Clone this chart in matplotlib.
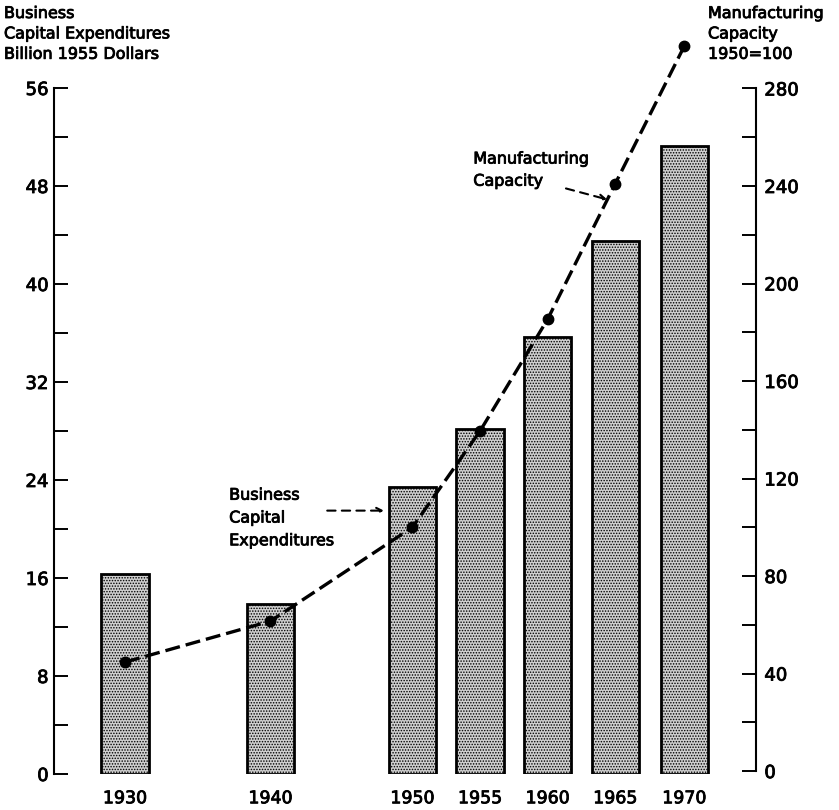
import matplotlib
matplotlib.use("Agg")
import matplotlib.pyplot as plt
import matplotlib.patheffects as pe
from matplotlib.ticker import MultipleLocator

# data
years = ["1930", "1940", "1950", "1955", "1960", "1965", "1970"]
capex = [16.3, 13.9, 23.4, 28.2, 35.7, 43.5, 51.3]          # billion 1955 dollars
capacity = [44.7, 61.5, 100.0, 139.5, 185.4, 241.0, 297.4]  # 1950 = 100

# horizontal slots (uneven spacing like the original)
slots = [1.05, 3.2, 5.3, 6.3, 7.3, 8.3, 9.32]

plt.rcParams['font.family'] = ['DejaVu Sans']
plt.rcParams['hatch.color'] = '#6e6e6e'
plt.rcParams['hatch.linewidth'] = 0.7

# slight stroke so the letters look like the old lettering-guide type
thick = [pe.withStroke(linewidth=0.6, foreground='black')]

fig = plt.figure(figsize=(8.39, 8.10), dpi=100)
ax = fig.add_axes([54 / 839, 36 / 810, 702 / 839, 686 / 810])
ax2 = ax.twinx()

ax.bar(slots, capex, width=0.70, facecolor='#cfcfcf', edgecolor='black',
       linewidth=2.0, hatch='......', zorder=2)

ax2.plot(slots, capacity, color='black', lw=2.4, dashes=(4.5, 1.8),
         marker='o', markersize=7.5, clip_on=False, zorder=3)

ax.set_xlim(0, 10.38)
ax.set_ylim(0, 56)
ax2.set_ylim(-1.2, 280.2)

for a in (ax, ax2):
    a.spines['top'].set_visible(False)
    a.spines['bottom'].set_visible(False)
ax.spines['right'].set_visible(False)
ax2.spines['left'].set_visible(False)
ax.spines['left'].set_bounds(0, 56)
ax2.spines['right'].set_bounds(0, 280)
ax.spines['left'].set_linewidth(1.5)
ax2.spines['right'].set_linewidth(1.5)

ax.yaxis.set_major_locator(MultipleLocator(8))
ax.yaxis.set_minor_locator(MultipleLocator(4))
ax2.yaxis.set_major_locator(MultipleLocator(40))
ax2.yaxis.set_minor_locator(MultipleLocator(20))
ax2.set_yticks(range(0, 281, 40))

ax.tick_params(axis='y', which='both', direction='in', length=10, width=1.4,
               labelsize=13, pad=4)
ax2.tick_params(axis='y', which='both', direction='in', length=10, width=1.4,
                labelsize=13, pad=6)
ax.set_xticks(slots)
ax.set_xticklabels(years)
ax.tick_params(axis='x', length=0, labelsize=12.5, pad=11)

for lab in ax.get_xticklabels() + ax.get_yticklabels() + ax2.get_yticklabels():
    lab.set_path_effects(thick)

# annotations
ax.text(2.59, 20.9, "Business\nCapital\nExpenditures", fontsize=11.5,
        va='center', ha='left', linespacing=1.65, path_effects=thick)
ax.annotate("", xy=(4.88, 21.5), xytext=(4.04, 21.5),
            arrowprops=dict(arrowstyle='->', linestyle=(0, (4, 3)), lw=1.5,
                            color='black', shrinkA=0, shrinkB=0))
ax.text(6.2, 49.3, "Manufacturing\nCapacity", fontsize=11.5,
        va='center', ha='left', linespacing=1.6, path_effects=thick)
ax.annotate("", xy=(8.18, 46.9), xytext=(7.57, 47.8),
            arrowprops=dict(arrowstyle='->', linestyle=(0, (4, 3)), lw=1.5,
                            color='black', shrinkA=0, shrinkB=0))

# axis headers
fig.text(4 / 839, 1 - 6 / 810, "Business\nCapital Expenditures\nBillion 1955 Dollars",
         fontsize=11.5, va='top', ha='left', linespacing=1.45, path_effects=thick)
fig.text(708 / 839, 1 - 6 / 810, "Manufacturing\nCapacity\n1950=100",
         fontsize=11.5, va='top', ha='left', linespacing=1.45, path_effects=thick)

fig.savefig("out.png", dpi=100)
